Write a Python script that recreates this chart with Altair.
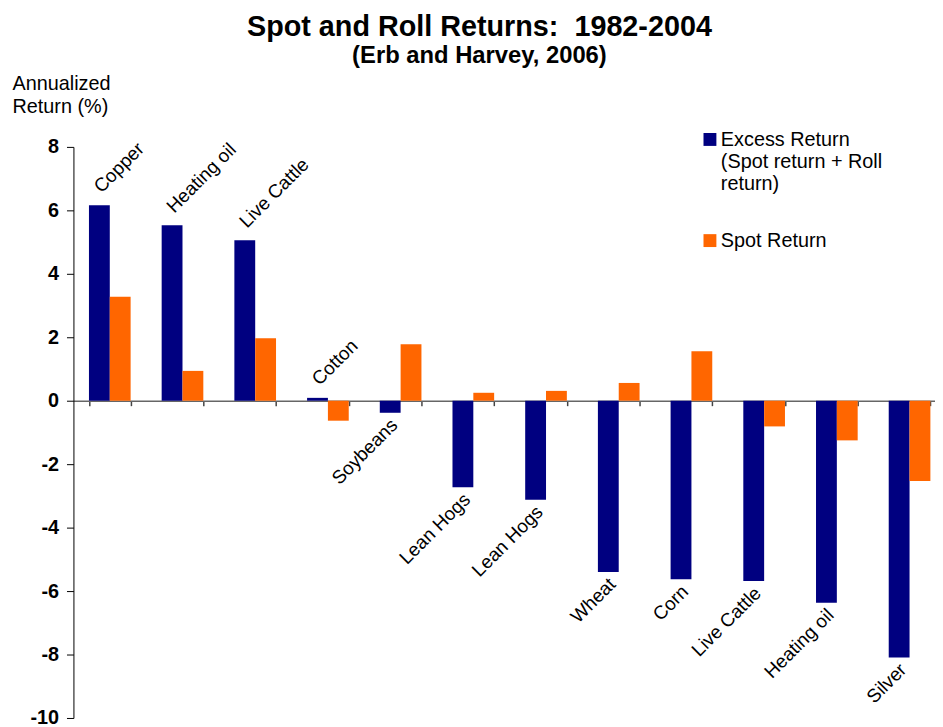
import altair as alt
import pandas as pd

# ---- data ----
commodities = ["Copper", "Heating oil", "Live Cattle", "Cotton", "Soybeans", "Lean Hogs",
               "Lean  Hogs", "Wheat", "Corn", "Live Cattle", "Heating oil", "Silver"]
excess_return = [6.16, 5.53, 5.06, 0.09, -0.38, -2.73, -3.12, -5.40, -5.63, -5.68, -6.37, -8.09]
spot_return = [3.28, 0.94, 1.97, -0.63, 1.78, 0.25, 0.31, 0.56, 1.56, -0.81, -1.25, -2.53]
series_keys = ["excess", "spot"]
series_colors = ["#000080", "#FF6600"]
y_ticks = [-10, -8, -6, -4, -2, 0, 2, 4, 6, 8]
y_domain = [-10, 8]

FONT = "Liberation Sans"
W, H = 869, 576
X_RANGE = 880  # the category axis runs past the right edge, as in the reference
zero_from_bottom = H * (0 - y_domain[0]) / (y_domain[1] - y_domain[0])

df = pd.DataFrame({
    "idx": list(range(len(commodities))),
    "name": commodities,
    "excess": excess_return,
    "spot": spot_return,
})

x_scale = alt.Scale(paddingInner=0.427, paddingOuter=0.2135, range=[0, X_RANGE])
y_scale = alt.Scale(domain=y_domain, nice=False, zero=False)

x_axis = alt.Axis(labels=False, title=None, offset=-zero_from_bottom,
                  tickBand="extent", domainColor="#666666", domainWidth=1.5,
                  tickColor="#444444", tickSize=5, tickWidth=1.5, grid=False)
y_axis = alt.Axis(values=y_ticks, labelExpr="'' + datum.value", grid=False,
                  title=["Annualized", "Return (%)"], titleAngle=0, titleAlign="left",
                  titleBaseline="alphabetic", titleX=-62, titleY=-58,
                  titleFont=FONT, titleFontSize=20, titleFontWeight="normal",
                  titleColor="black", titleLineHeight=23,
                  labelFont=FONT, labelFontSize=20, labelFontWeight="bold",
                  labelColor="black", labelPadding=8, tickSize=7,
                  tickColor="black", domainColor="black")

base = alt.Chart(df)

bars = base.transform_fold(series_keys, as_=["series", "value"]).mark_bar().encode(
    x=alt.X("idx:O", scale=x_scale, axis=x_axis),
    xOffset=alt.XOffset("series:N", sort=series_keys),
    y=alt.Y("value:Q", scale=y_scale, axis=y_axis),
    color=alt.Color("series:N", sort=series_keys,
                    scale=alt.Scale(domain=series_keys, range=series_colors),
                    legend=alt.Legend(title=None, orient="none", legendX=632, legendY=-11,
                                      direction="vertical", padding=0,
                                      labelExpr="datum.label == 'excess' ? ['Excess Return', '(Spot return + Roll', 'return)'] : 'Spot Return'",
                                      labelFont=FONT, labelFontSize=20, labelColor="black",
                                      labelLimit=400, labelBaseline="alphabetic", labelOffset=1,
                                      symbolType="M-1,-2H1V0H-1Z", symbolSize=169,
                                      symbolStrokeWidth=0, symbolOpacity=1, rowPadding=38)),
)

pos_labels = base.transform_filter("datum.excess >= 0").transform_calculate(
    series="'excess'", ly="datum.excess + 0.12"
).mark_text(align="left", baseline="bottom", angle=315, dx=7, font=FONT, fontSize=19,
            color="black").encode(
    x=alt.X("idx:O", scale=x_scale, axis=x_axis),
    xOffset=alt.XOffset("series:N", sort=series_keys),
    y=alt.Y("ly:Q", scale=y_scale, axis=y_axis),
    text="name:N",
)

neg_labels = base.transform_filter("datum.excess < 0").transform_calculate(
    series="'excess'", ly="datum.excess - 0.03"
).mark_text(align="right", baseline="top", angle=315, dx=-3, font=FONT, fontSize=19,
            color="black").encode(
    x=alt.X("idx:O", scale=x_scale, axis=x_axis),
    xOffset=alt.XOffset("series:N", sort=series_keys),
    y=alt.Y("ly:Q", scale=y_scale, axis=y_axis),
    text="name:N",
)

chart = alt.layer(bars, pos_labels, neg_labels).properties(
    width=W, height=H,
    autosize=alt.AutoSizeParams(type="none"),
    padding={"left": 66, "top": 137, "right": 0, "bottom": 6},
    title=alt.Title("Spot and Roll Returns:\u00a0 1982-2004", subtitle="(Erb and Harvey, 2006)",
                    font=FONT, fontSize=29, fontWeight="bold", color="black",
                    subtitleFont=FONT, subtitleFontSize=24, subtitleFontWeight="bold",
                    subtitleColor="black", anchor="middle", dx=-25, offset=6,
                    subtitlePadding=2),
).configure_view(stroke=None)

chart.save("out.html", embed_options={"renderer": "svg", "actions": False})
